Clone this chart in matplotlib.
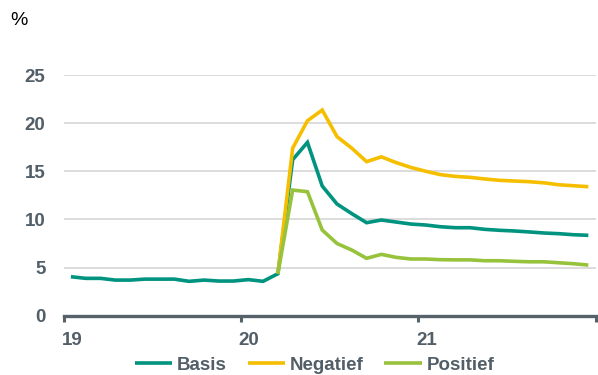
import numpy as np
import matplotlib.pyplot as plt
import matplotlib.transforms as mtransforms

plt.rcParams['font.family'] = ['Liberation Sans', 'DejaVu Sans']

# monthly figures, Jan 2019 .. Dec 2021 (36 months)
basis = [4.05, 3.88, 3.88, 3.70, 3.70, 3.80, 3.80, 3.80, 3.57, 3.70, 3.60, 3.60,
         3.75, 3.57, 4.36, 16.2, 18.0, 13.47, 11.6, 10.6, 9.66, 9.94, 9.73, 9.52,
         9.42, 9.24, 9.14, 9.14, 8.97, 8.87, 8.80, 8.70, 8.59, 8.52, 8.41, 8.35]
negatief = [None] * 14 + [4.36, 17.4, 20.25, 21.36, 18.6, 17.4, 16.0, 16.5, 15.9, 15.4,
                          15.0, 14.65, 14.47, 14.37, 14.2, 14.06, 13.99, 13.92, 13.8,
                          13.6, 13.5, 13.4]
positief = [None] * 14 + [4.36, 13.05, 12.88, 8.9, 7.5, 6.82, 5.96, 6.37, 6.06, 5.89,
                          5.89, 5.82, 5.8, 5.8, 5.71, 5.71, 5.65, 5.6, 5.6, 5.5, 5.4,
                          5.26]
year_labels = ["19", "20", "21"]
y_ticks = [0, 5, 10, 15, 20, 25]

TEXT = "#535F68"
AXIS = "#55626A"
COLORS = {"Basis": "#00937F", "Negatief": "#F5BF00", "Positief": "#97C23C"}


def to_array(values):
    return np.array([np.nan if v is None else v for v in values], dtype=float)


fig = plt.figure(figsize=(5.98, 3.75), dpi=100)
ax = fig.add_axes([0.1062, 0.1581, 0.8900, 0.6419])

x = np.arange(len(basis))
for name, vals in [("Basis", basis), ("Negatief", negatief), ("Positief", positief)]:
    ax.plot(x, to_array(vals), color=COLORS[name], lw=2.6, label=name,
            solid_joinstyle="miter", solid_capstyle="butt")

ax.set_xlim(-0.5, len(basis) - 0.5)
ax.set_ylim(0, 25)

ax.set_yticks(y_ticks)
ax.set_yticklabels([str(t) for t in y_ticks])
ax.yaxis.grid(True, color="#D9D9D9", lw=1.3)
ax.set_axisbelow(True)
ax.tick_params(axis="y", length=0, pad=13, labelsize=13.5, labelcolor=TEXT)

year_pos = np.arange(0, len(basis) + 1, 12) - 0.5
ax.set_xticks(year_pos)
ax.set_xticklabels(year_labels + [""])
ax.tick_params(axis="x", length=4, width=2.2, color=AXIS, pad=8,
               labelsize=13.5, labelcolor=TEXT, direction="out")
shift = mtransforms.ScaledTranslation(6 / 72, 0, fig.dpi_scale_trans)
for lbl in ax.get_xticklabels():
    lbl.set_transform(lbl.get_transform() + shift)

for lbl in ax.get_xticklabels() + ax.get_yticklabels():
    lbl.set_fontweight("bold")

for side in ["top", "right", "left"]:
    ax.spines[side].set_visible(False)
ax.spines["bottom"].set_color(AXIS)
ax.spines["bottom"].set_linewidth(2.4)

fig.text(0.017, 0.945, "%", fontsize=14, color="black", va="center", ha="left")

leg = fig.legend(loc="center", bbox_to_anchor=(0.526, 1 - 365 / 375), ncol=3,
                 frameon=False, handlelength=2.0, handletextpad=0.25,
                 columnspacing=1.1, prop={"size": 13.5, "weight": "bold"})
for t in leg.get_texts():
    t.set_color(TEXT)

fig.savefig("out.png", dpi=100)
